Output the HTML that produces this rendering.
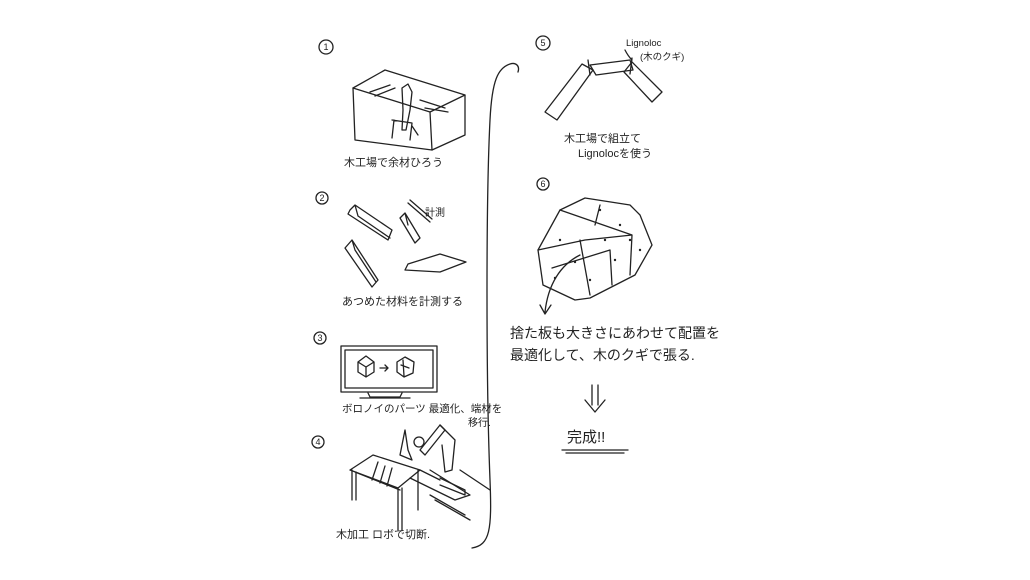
<!DOCTYPE html>
<html><head><meta charset="utf-8"><style>
html,body{margin:0;padding:0;background:#fff;}
svg{display:block}
text{font-family:"Liberation Sans","Noto Sans CJK JP",sans-serif;fill:#222;}
</style></head><body>
<svg width="1030" height="580" viewBox="0 0 1030 580" xmlns="http://www.w3.org/2000/svg">
<g fill="none" stroke="#222" stroke-width="1.3" stroke-linejoin="round" stroke-linecap="round">
<!-- 1 -->
<circle cx="326" cy="47" r="7"/>
<path d="M353 88 L430 112 L432 150 L355 140 Z"/>
<path d="M353 88 L385 70 L465 95 L430 112"/>
<path d="M465 95 L465 135 L432 150"/>
<path d="M370 92 L390 85 M375 96 L395 88 M420 100 L445 108 M425 108 L448 112"/>
<path d="M402 88 L408 84 L412 92 L410 110 L406 130 L402 130 L403 110 Z"/>
<path d="M392 120 L412 123 L410 140 M394 120 L392 138 M412 126 L418 135"/>
<!-- 2 -->
<circle cx="322" cy="198" r="6"/>
<path d="M350 210 L355 205 L392 230 L388 240 L348 214 Z M355 205 L358 216 L390 238"/>
<path d="M400 218 L405 213 L420 238 L415 243 Z M405 213 L408 225"/>
<path d="M408 203 L430 222 M410 200 L432 219"/>
<path d="M345 248 L352 240 L378 280 L372 287 Z M352 240 L355 250 L376 282"/>
<path d="M408 264 L440 254 L466 262 L440 272 L405 270 Z"/>
<!-- 3 -->
<circle cx="320" cy="338" r="6"/>
<rect x="341" y="346" width="96" height="46"/>
<rect x="345" y="350" width="88" height="38"/>
<path d="M368 393 L370 397 L400 397 L402 393 M360 398 L410 398"/>
<path d="M358 362 L366 356 L374 362 L374 372 L366 377 L358 372 Z M358 362 L366 367 L374 362 M366 367 L366 377"/>
<path d="M380 368 L388 368 M385 365 L388 368 L385 371"/>
<path d="M397 362 L405 357 L414 362 L413 373 L404 377 L397 372 Z M401 365 L409 368 M403 360 L404 376"/>
<!-- 4 -->
<circle cx="318" cy="442" r="6"/>
<path d="M350 470 L373 455 L420 470 L398 488 Z M355 472 L400 490"/>
<path d="M352 470 L352 500 M356 472 L356 500 M398 488 L398 530 M402 488 L402 530 M418 470 L418 510"/>
<path d="M378 462 L372 480 M385 466 L380 483 M392 468 L387 486"/>
<path d="M420 470 L440 480 M410 478 L455 500 L470 495 L430 470"/>
<path d="M420 450 L440 425 L445 430 L425 455 Z"/>
<circle cx="419" cy="442" r="5"/>
<path d="M440 425 L455 440 L452 470 L445 472 L442 445"/>
<path d="M405 430 L408 450 L412 460 L400 455 Z"/>
<path d="M440 478 L465 490 L465 495 L440 485 M460 470 L490 490 M430 495 L465 515 M435 500 L470 520"/>
<!-- divider curve -->
<path d="M472 548 C490 545 492 530 490 480 C486 380 486 200 490 120 C492 80 498 68 510 64 C516 62 520 66 518 72"/>
<!-- 5 -->
<circle cx="543" cy="43" r="7"/>
<path d="M545 112 L582 64 L593 70 L557 120 Z"/>
<path d="M590 65 L630 60 L633 70 L596 75 Z"/>
<path d="M632 62 L662 92 L652 102 L624 72 Z"/>
<path d="M588 60 L590 75 M632 58 L630 74 M625 50 C628 56 630 58 632 60"/>
<!-- 6 -->
<circle cx="543" cy="184" r="6"/>
<path d="M585 198 L630 205 L640 215 L652 245 L635 275 L590 298 L575 300 L543 285 L538 250 L560 210 Z"/>
<path d="M560 210 L632 235 L630 275 M538 250 L585 240 L632 235 M552 268 L610 250 M580 240 L590 295 M610 250 L612 285 M600 205 L595 225"/>
<path d="M580 255 C560 265 548 285 545 312 M540 305 L545 314 L551 305"/>
<!-- down arrow + underline -->
<path d="M592 385 L592 405 M598 385 L598 405 M585 400 L595 412 L605 400"/>
<path d="M562 450 L628 450 M566 453 L624 453"/>
</g>
<g fill="#222">
<circle cx="600" cy="210" r="1.2"/><circle cx="620" cy="225" r="1.2"/><circle cx="560" cy="240" r="1.2"/><circle cx="575" cy="262" r="1.2"/><circle cx="615" cy="260" r="1.2"/><circle cx="640" cy="250" r="1.2"/><circle cx="590" cy="280" r="1.2"/><circle cx="555" cy="278" r="1.2"/><circle cx="630" cy="240" r="1.2"/><circle cx="605" cy="240" r="1.2"/>
</g>
<g font-size="9" text-anchor="middle">
<text x="326" y="50">1</text><text x="322" y="201">2</text><text x="320" y="341">3</text><text x="318" y="445">4</text><text x="543" y="46">5</text><text x="543" y="187">6</text>
</g>
<text x="344" y="166" font-size="11">木工場で余材ひろう</text>
<text x="425" y="216" font-size="10">計測</text>
<text x="342" y="305" font-size="11">あつめた材料を計測する</text>
<text x="342" y="412" font-size="10.5">ボロノイのパーツ 最適化、端材を</text>
<text x="468" y="426" font-size="10">移行.</text>
<text x="336" y="538" font-size="11">木加工 ロボで切断.</text>
<text x="626" y="46" font-size="9.5">Lignoloc</text>
<text x="640" y="60" font-size="9.5">(木のクギ)</text>
<text x="564" y="142" font-size="11">木工場で組立て</text>
<text x="578" y="157" font-size="11">Lignolocを使う</text>
<text x="510" y="338" font-size="14">捨た板も大きさにあわせて配置を</text>
<text x="510" y="360" font-size="14">最適化して、木のクギで張る.</text>
<text x="567" y="442" font-size="15">完成!!</text>
</svg>
</body></html>
